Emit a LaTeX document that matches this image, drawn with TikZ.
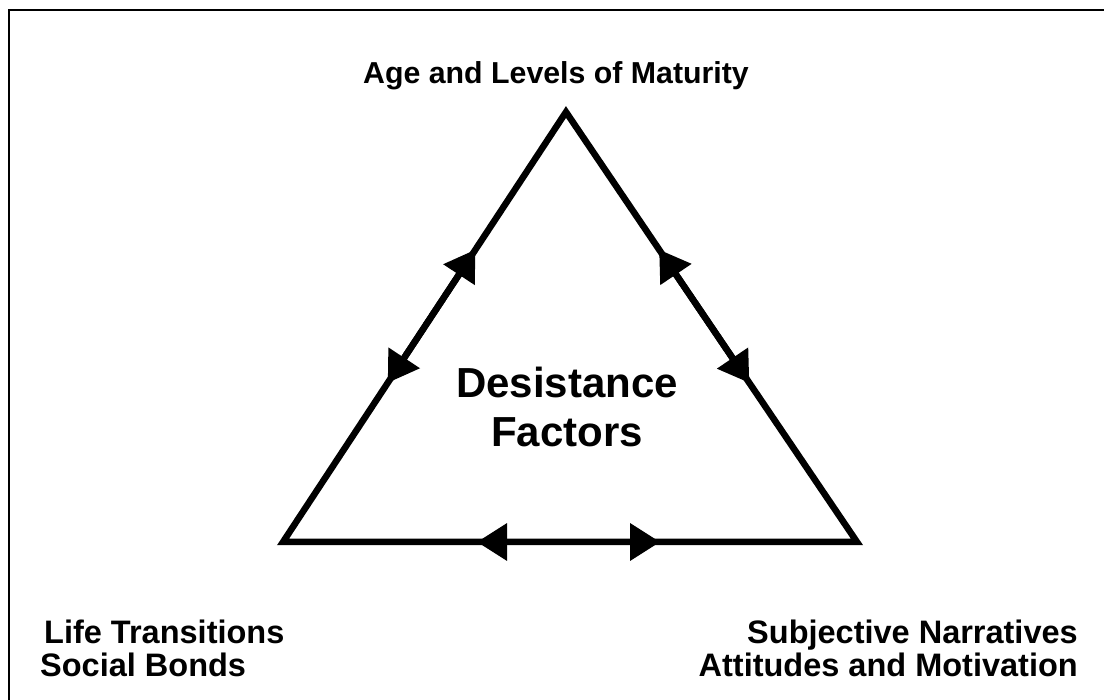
\documentclass[tikz,border=0pt]{standalone}
\usepackage{fontspec}
\setmainfont{Liberation Sans}
\usetikzlibrary{arrows.meta,calc}

\begin{document}
\begin{tikzpicture}[x=1pt,y=-1pt,line join=miter]
\tikzset{
	side line/.style={line width=6.5pt},
	both way/.style={line width=6.5pt,{Triangle[length=30pt,width=36pt]}-{Triangle[length=30pt,width=36pt]}},
	top label/.style={font=\bfseries\fontsize{30.3}{36}\selectfont,inner sep=0pt},
	centre label/.style={font=\bfseries\fontsize{42}{49}\selectfont,inner sep=0pt},
	corner label/.style={font=\bfseries\fontsize{32.5}{33}\selectfont,inner sep=0pt}
}
\useasboundingbox (0,0) rectangle (1104,700);
\draw[line width=1.5pt] (9,700) -- (9,10) -- (1104,10);

% triangle corners
\coordinate (top) at (566,112);
\coordinate (left) at (283,542);
\coordinate (right) at (857,542);
\draw[side line] (top) -- (left) -- (right) -- cycle;

% arrow ends on the sides
\coordinate (l1) at ($(left)!0.37!(top)$);
\coordinate (l2) at ($(left)!0.68!(top)$);
\coordinate (r1) at ($(right)!0.37!(top)$);
\coordinate (r2) at ($(right)!0.68!(top)$);
\coordinate (b1) at ($(left)!0.338!(right)$);
\coordinate (b2) at ($(left)!0.657!(right)$);
\draw[both way] (l1) -- (l2);
\draw[both way] (r1) -- (r2);
\draw[both way] (b1) -- (b2);

\node[top label,anchor=base] (age) at (556,84) {Age and Levels of Maturity};
\node[centre label,anchor=base] (desist) at (567,398) {Desistance};
\node[centre label,anchor=base] (factors) at (567,447) {Factors};

\node[corner label,anchor=base west] (life) at (44,643) {Life Transitions};
\node[corner label,anchor=base west] (bonds) at (40,676) {Social Bonds};
\node[corner label,anchor=base east] (subj) at (1078,643) {Subjective Narratives};
\node[corner label,anchor=base east] (att) at (1078,676) {Attitudes and Motivation};
\end{tikzpicture}
\end{document}
